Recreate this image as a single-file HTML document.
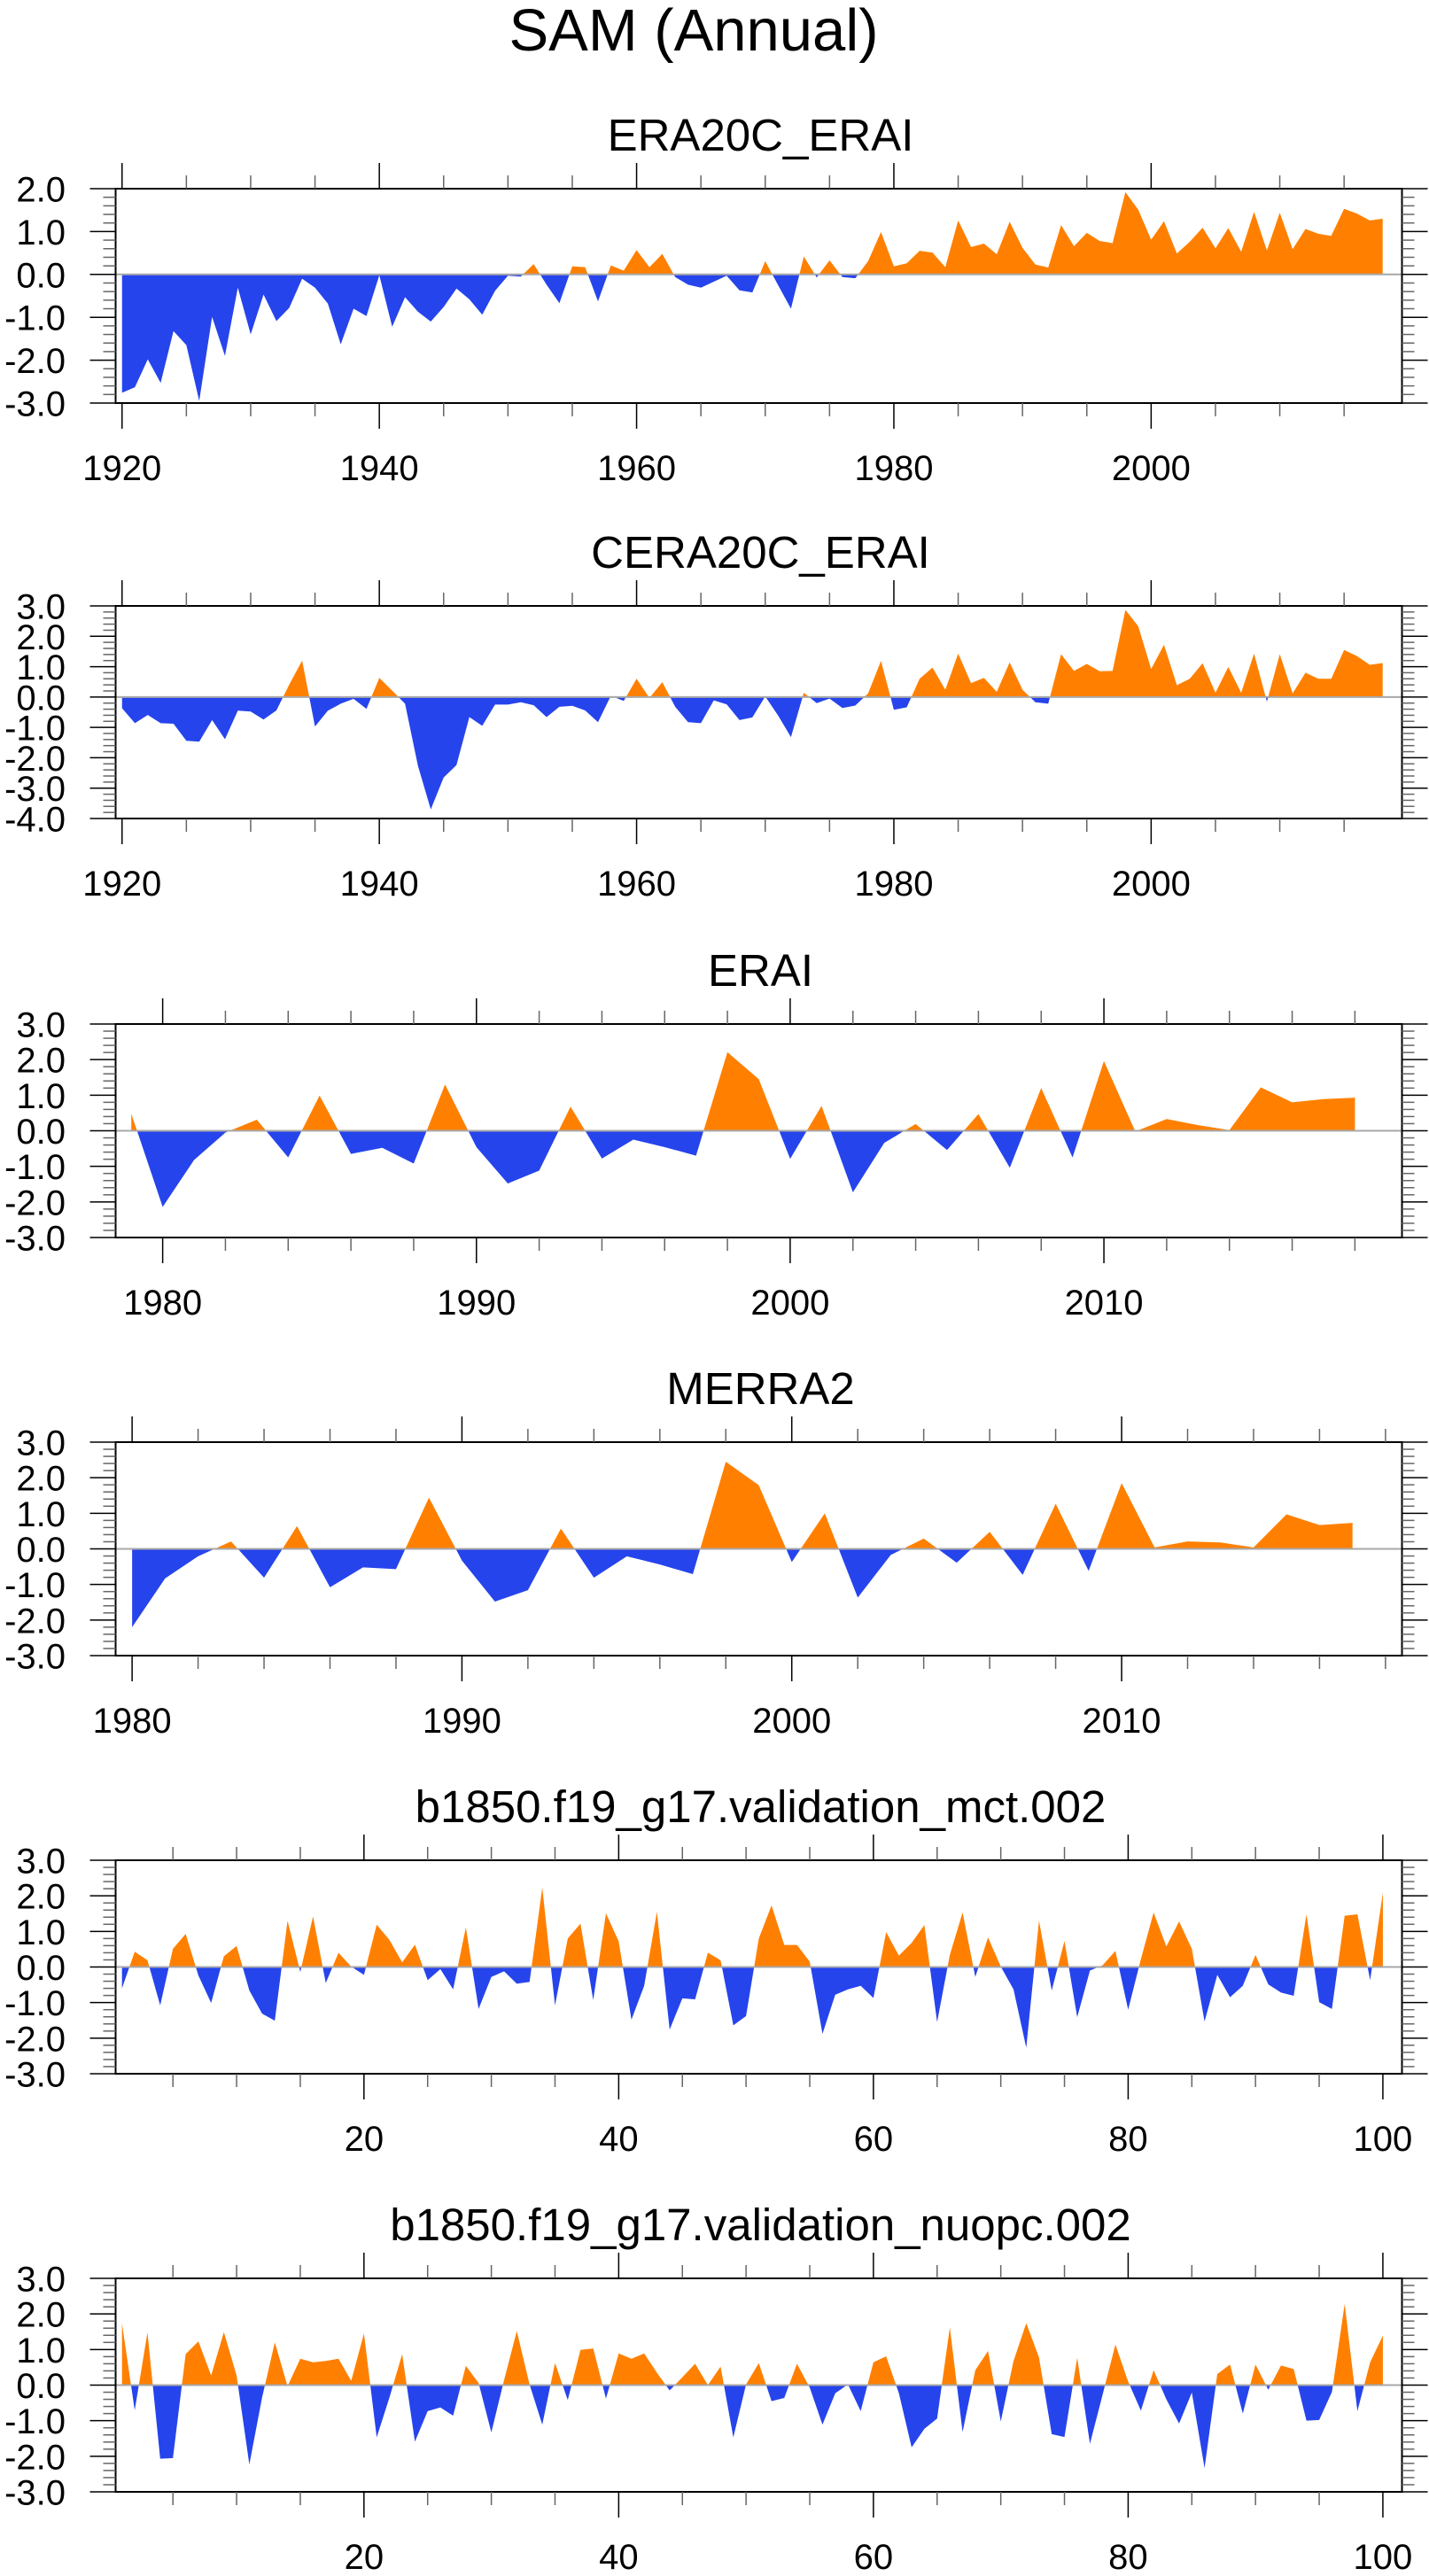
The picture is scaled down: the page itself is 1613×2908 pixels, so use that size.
<!DOCTYPE html>
<html>
<head>
<meta charset="utf-8">
<style>
html,body{margin:0;padding:0;background:#fff;}
svg{display:block;}
text{font-family:"Liberation Sans",Arial,sans-serif;fill:#000;}
</style>
</head>
<body>
<svg id="fig" xmlns="http://www.w3.org/2000/svg" width="1613" height="2908" viewBox="0 0 1613 2908">
<rect width="1613" height="2908" fill="#fff"/>
<text x="783" y="57" font-size="67" text-anchor="middle">SAM (Annual)</text>
</svg>
<script>
// ---- data ----
const era20cStart = 1920;
const era20cValues = [-2.76,-2.63,-1.98,-2.53,-1.32,-1.65,-2.95,-0.99,-1.90,-0.31,-1.40,-0.47,-1.09,-0.78,-0.10,-0.31,-0.68,-1.63,-0.80,-0.97,-0.02,-1.22,-0.53,-0.87,-1.10,-0.76,-0.33,-0.58,-0.94,-0.38,-0.03,-0.05,0.24,-0.24,-0.67,0.19,0.17,-0.63,0.21,0.09,0.57,0.17,0.48,-0.06,-0.24,-0.31,-0.17,-0.03,-0.37,-0.42,0.31,-0.25,-0.80,0.42,-0.07,0.33,-0.06,-0.09,0.31,0.99,0.19,0.26,0.55,0.51,0.17,1.26,0.64,0.72,0.47,1.23,0.62,0.23,0.16,1.15,0.66,0.97,0.78,0.73,1.92,1.51,0.81,1.24,0.49,0.76,1.09,0.61,1.08,0.53,1.46,0.56,1.44,0.59,1.06,0.95,0.90,1.53,1.42,1.26,1.30];
const cera20cStart = 1920;
const cera20cValues = [-0.37,-0.86,-0.59,-0.86,-0.88,-1.44,-1.47,-0.76,-1.39,-0.45,-0.48,-0.74,-0.44,0.41,1.20,-0.97,-0.45,-0.22,-0.06,-0.39,0.63,0.21,-0.22,-2.26,-3.70,-2.65,-2.24,-0.66,-0.95,-0.25,-0.25,-0.17,-0.27,-0.66,-0.32,-0.29,-0.44,-0.83,0.04,-0.13,0.60,-0.03,0.49,-0.32,-0.83,-0.86,-0.11,-0.24,-0.76,-0.67,0.02,-0.61,-1.32,0.14,-0.20,-0.05,-0.36,-0.28,0.12,1.19,-0.42,-0.34,0.60,0.97,0.24,1.43,0.46,0.63,0.17,1.14,0.24,-0.17,-0.22,1.41,0.86,1.09,0.85,0.86,2.87,2.33,0.92,1.72,0.39,0.60,1.11,0.14,0.99,0.14,1.43,-0.15,1.41,0.12,0.80,0.60,0.60,1.55,1.35,1.06,1.12];
const eraiStart = 1979;
const eraiValues = [0.48,-2.14,-0.82,-0.05,0.31,-0.75,0.99,-0.65,-0.48,-0.92,1.30,-0.46,-1.48,-1.12,0.68,-0.78,-0.25,-0.46,-0.70,2.21,1.45,-0.79,0.70,-1.73,-0.34,0.19,-0.54,0.47,-1.04,1.20,-0.75,1.96,-0.02,0.33,0.16,0.02,1.22,0.80,0.89,0.93];
const merra2Start = 1980;
const merra2Values = [-2.20,-0.83,-0.21,0.21,-0.81,0.64,-1.08,-0.52,-0.57,1.44,-0.33,-1.48,-1.16,0.57,-0.81,-0.21,-0.44,-0.71,2.45,1.79,-0.37,1.00,-1.37,-0.17,0.29,-0.39,0.48,-0.73,1.27,-0.62,1.85,0.04,0.21,0.18,0.04,0.97,0.67,0.73];
const mctStart = 1;
const mctValues = [-0.60,0.43,0.19,-1.08,0.51,0.93,-0.24,-1.01,0.30,0.59,-0.66,-1.31,-1.51,1.30,-0.14,1.42,-0.45,0.40,0.01,-0.22,1.19,0.76,0.13,0.63,-0.37,-0.06,-0.63,1.11,-1.18,-0.28,-0.12,-0.47,-0.42,2.23,-1.08,0.80,1.22,-0.93,1.51,0.72,-1.48,-0.53,1.55,-1.76,-0.88,-0.91,0.40,0.19,-1.64,-1.38,0.80,1.73,0.62,0.62,0.15,-1.88,-0.78,-0.63,-0.53,-0.87,0.98,0.32,0.68,1.18,-1.55,0.34,1.53,-0.28,0.83,0.01,-0.63,-2.27,1.30,-0.66,0.73,-1.41,-0.10,0.05,0.45,-1.20,0.22,1.53,0.58,1.28,0.51,-1.53,-0.22,-0.85,-0.53,0.34,-0.49,-0.72,-0.81,1.48,-0.99,-1.18,1.44,1.48,-0.37,2.09];
const nuopcStart = 1;
const nuopcValues = [1.74,-0.71,1.48,-2.07,-2.05,0.87,1.23,0.27,1.49,0.27,-2.23,-0.35,1.20,-0.03,0.74,0.64,0.68,0.74,0.12,1.45,-1.47,-0.35,0.87,-1.59,-0.73,-0.63,-0.86,0.54,0.06,-1.33,0.14,1.52,0.02,-1.11,0.62,-0.42,0.99,1.03,-0.38,0.89,0.74,0.89,0.35,-0.15,0.22,0.60,0.0,0.52,-1.47,0.02,0.62,-0.45,-0.36,0.60,-0.07,-1.11,-0.23,0.02,-0.73,0.64,0.81,-0.23,-1.75,-1.23,-0.94,1.62,-1.32,0.42,0.96,-1.02,0.68,1.74,0.78,-1.38,-1.46,0.77,-1.65,-0.26,1.14,0.10,-0.72,0.42,-0.40,-1.08,-0.21,-2.33,0.31,0.58,-0.80,0.58,-0.13,0.55,0.45,-1.00,-0.98,-0.19,2.28,-0.73,0.64,1.39];
const yearTicks20 = [1920,1940,1960,1980,2000];
const yearTicks10 = [1980,1990,2000,2010];
const runTicks = [20,40,60,80,100];

// ---- layout ----
const NS = "http://www.w3.org/2000/svg";
const svg = document.getElementById('fig');
const FL = 130.5, FR = 1582.5;
const panels = [
  {name:'era20c-erai', title:'ERA20C_ERAI', top:213, bottom:455, ymax:2, ymin:-3, x0:1919.5, x1:2019.5, start:era20cStart, vals:era20cValues, ticks:yearTicks20, minor:5},
  {name:'cera20c-erai', title:'CERA20C_ERAI', top:684, bottom:924, ymax:3, ymin:-4, x0:1919.5, x1:2019.5, start:cera20cStart, vals:cera20cValues, ticks:yearTicks20, minor:5},
  {name:'erai', title:'ERAI', top:1156, bottom:1397, ymax:3, ymin:-3, x0:1978.5, x1:2019.5, start:eraiStart, vals:eraiValues, ticks:yearTicks10, minor:2},
  {name:'merra2', title:'MERRA2', top:1628, bottom:1869, ymax:3, ymin:-3, x0:1979.5, x1:2018.5, start:merra2Start, vals:merra2Values, ticks:yearTicks10, minor:2},
  {name:'mct', title:'b1850.f19_g17.validation_mct.002', top:2100, bottom:2341, ymax:3, ymin:-3, x0:0.5, x1:101.5, start:mctStart, vals:mctValues, ticks:runTicks, minor:5},
  {name:'nuopc', title:'b1850.f19_g17.validation_nuopc.002', top:2572, bottom:2813, ymax:3, ymin:-3, x0:0.5, x1:101.5, start:nuopcStart, vals:nuopcValues, ticks:runTicks, minor:5}
];

function mk(tag, attrs, parent){
  const e = document.createElementNS(NS, tag);
  for (const k in attrs) e.setAttribute(k, attrs[k]);
  (parent||svg).appendChild(e);
  return e;
}

panels.forEach((p, pi) => {
  const g = mk('g', {});
  
  
  const xs = v => FL + (v - p.x0) / (p.x1 - p.x0) * (FR - FL);
  const ys = v => p.top + (p.ymax - v) / (p.ymax - p.ymin) * (p.bottom - p.top);
  const y0 = ys(0);

  const t = mk('text', {x:(FL+FR)/2 + 2, y:p.top - 43, 'font-size':51, 'text-anchor':'middle'}, g);
  
  
  t.textContent = p.title;

  // clip paths
  const defs = mk('defs', {}, g);
  const cpA = mk('clipPath', {id:'above'+pi}, defs);
  mk('rect', {x:FL, y:p.top, width:FR-FL, height:y0-p.top}, cpA);
  const cpB = mk('clipPath', {id:'below'+pi}, defs);
  mk('rect', {x:FL, y:y0, width:FR-FL, height:p.bottom-y0}, cpB);

  let pts = [];
  const n = p.vals.length;
  pts.push(xs(p.start).toFixed(2) + ',' + y0.toFixed(2));
  p.vals.forEach((v, i) => { pts.push(xs(p.start + i).toFixed(2) + ',' + ys(v).toFixed(2)); });
  pts.push(xs(p.start + n - 1).toFixed(2) + ',' + y0.toFixed(2));
  const ps = pts.join(' ');
  const pa = mk('polygon', {points:ps, fill:'#ff8000', 'clip-path':'url(#above'+pi+')'}, g);
  
  
  const pb = mk('polygon', {points:ps, fill:'#2644ec', 'clip-path':'url(#below'+pi+')'}, g);
  
  

  const zl = mk('line', {x1:FL, x2:FR, y1:y0, y2:y0, stroke:'#a8a8a8', 'stroke-width':2}, g);
  
  

  const fr = mk('rect', {x:FL, y:p.top, width:FR-FL, height:p.bottom-p.top, fill:'none', stroke:'#000', 'stroke-width':2}, g);
  
  

  // x ticks
  const lo = Math.ceil(p.x0 / p.minor) * p.minor;
  for (let v = lo; v <= p.x1; v += p.minor) {
    const x = xs(v);
    const major = p.ticks.includes(v) || (p.ticks === yearTicks20 && (v % 20 === 0)) || (p.ticks !== yearTicks20 && v % (p.ticks[1]-p.ticks[0]) === 0);
    const L = major ? 29 : 15;
    const c = major ? '#000' : '#666';
    mk('line', {x1:x, x2:x, y1:p.top, y2:p.top - L, stroke:c, 'stroke-width':1.5}, g);
    mk('line', {x1:x, x2:x, y1:p.bottom, y2:p.bottom + L, stroke:c, 'stroke-width':1.5}, g);
  }
  p.ticks.forEach(v => {
    const tl = mk('text', {x:xs(v), y:p.bottom + 87, 'font-size':40, 'text-anchor':'middle'}, g);
    
    
    tl.textContent = String(v);
  });

  // y ticks
  for (let k = Math.round(p.ymin*5); k <= Math.round(p.ymax*5); k++) {
    const v = k / 5;
    const y = ys(v);
    const major = (k % 5 === 0);
    const L = major ? 29 : 14;
    const c = major ? '#000' : '#666';
    mk('line', {x1:FL, x2:FL - L, y1:y, y2:y, stroke:c, 'stroke-width':1.5}, g);
    mk('line', {x1:FR, x2:FR + L, y1:y, y2:y, stroke:c, 'stroke-width':1.5}, g);
    if (major) {
      const yl = mk('text', {x:74, y:y + 14.5, 'font-size':40, 'text-anchor':'end'}, g);
      
      
      yl.textContent = v.toFixed(1).replace('\u2212','-');
    }
  }
});
</script>
</body>
</html>
